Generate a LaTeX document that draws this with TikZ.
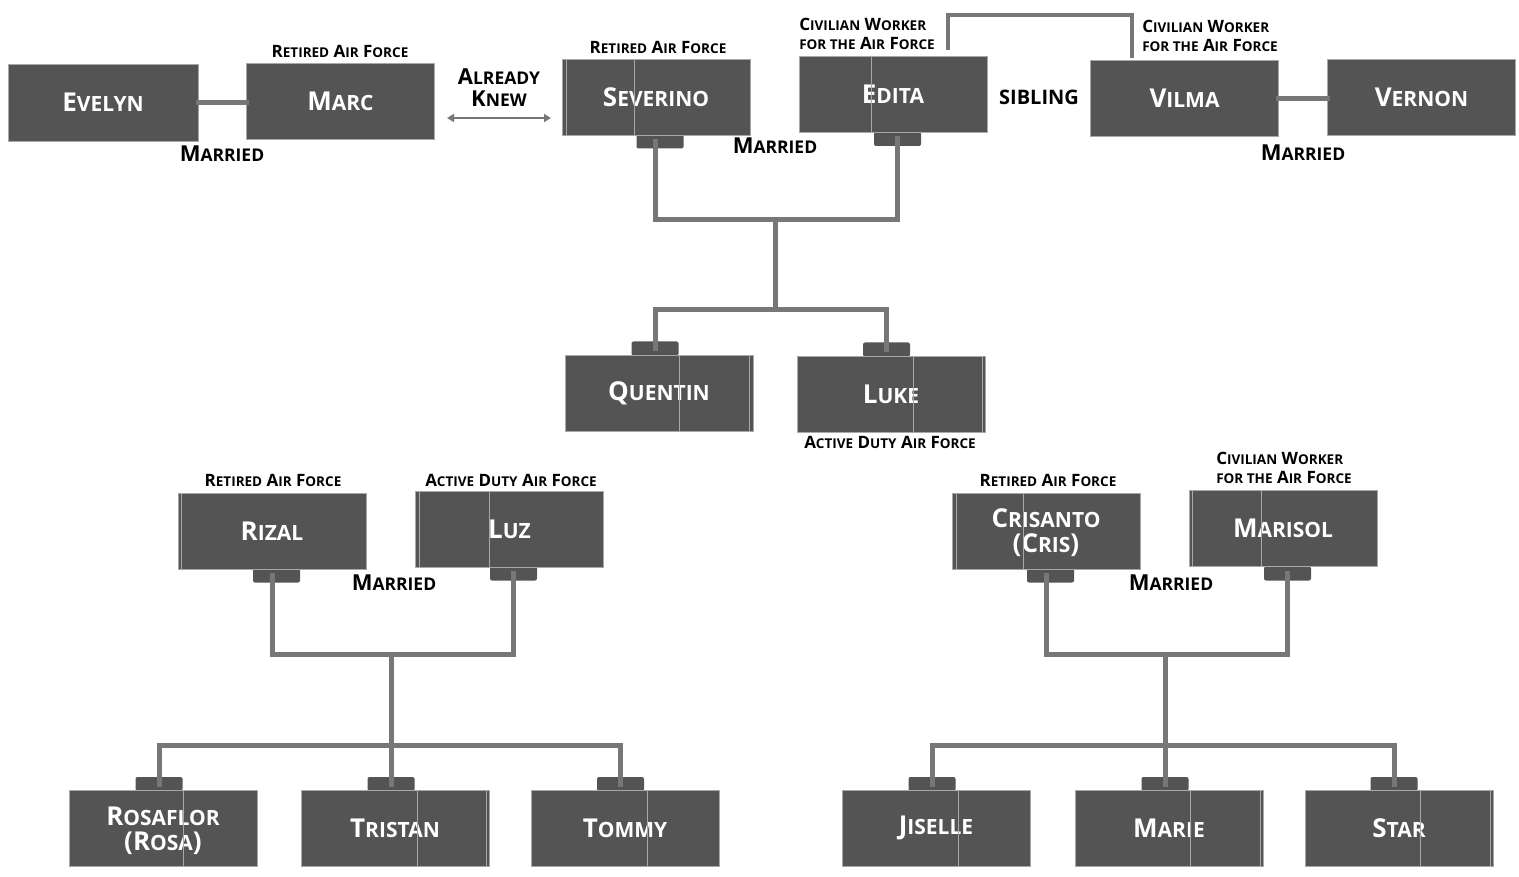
\documentclass[tikz,border=0pt]{standalone}
\usepackage{fontspec}
\setmainfont{Open Sans}
\usetikzlibrary{arrows.meta}
\definecolor{boxc}{HTML}{545454}
\definecolor{linec}{HTML}{777777}
\definecolor{edgec}{HTML}{A8A8A8}
\newcommand\NM[2]{#1{\fontsize{21}{25}\selectfont #2}}
\newcommand\LB[2]{#1{\fontsize{13.5}{19}\selectfont #2}}
\newcommand\MR[2]{#1{\fontsize{17.5}{22}\selectfont #2}}
\newcommand\RAF{\LB{R}{ETIRED} \LB{A}{IR} \LB{F}{ORCE}}
\newcommand\ADAF{\LB{A}{CTIVE} \LB{D}{UTY} \LB{A}{IR} \LB{F}{ORCE}}
\newcommand\CWAF{\LB{C}{IVILIAN} \LB{W}{ORKER}\\\LB{}{FOR THE} \LB{A}{IR} \LB{F}{ORCE}}
\newcommand\MAR{\MR{M}{ARRIED}}
\tikzset{
 person/.style={draw=edgec, line width=0.8pt, fill=boxc, minimum width=188pt, minimum height=76pt, inner sep=0pt, text=white, align=center, font=\fontsize{26}{25}\selectfont\bfseries},
 tabbox/.style={fill=boxc, rounded corners=2pt, minimum width=47pt, minimum height=14pt, inner sep=0pt},
 link/.style={draw=linec, line width=5pt, line cap=rect},
 lab/.style={inner sep=0pt, align=left, font=\fontsize{17}{19}\selectfont\bfseries},
 married/.style={inner sep=0pt, align=center, font=\fontsize{22}{22}\selectfont\bfseries},
 seam/.style={draw=edgec, line width=0.7pt},
}
\begin{document}
\begin{tikzpicture}[x=1pt,y=-1pt]
\useasboundingbox[fill=white] (0,0) rectangle (1519,877);
% tabs
\node[tabbox] (sevt) at (660,141.5) {};
\node[tabbox] (edt) at (897.5,139) {};
\node[tabbox] (qt) at (655,348.5) {};
\node[tabbox] (lt) at (886.5,349.5) {};
\node[tabbox] (rizt) at (276.5,575.5) {};
\node[tabbox] (luzt) at (513.5,573.5) {};
\node[tabbox] (crit) at (1050.5,575.5) {};
\node[tabbox] (mart) at (1287.5,573.5) {};
\node[tabbox] (rost) at (159,784) {};
\node[tabbox] (trit) at (391,784) {};
\node[tabbox] (tomt) at (620.5,784) {};
\node[tabbox] (jist) at (932,784) {};
\node[tabbox] (mart2) at (1165,784) {};
\node[tabbox] (start) at (1394,784) {};
% people
\node[person, minimum width=190pt, minimum height=77pt] (evelyn) at (103,102.5) {\NM{E}{VELYN}};
\node[person] (marc) at (340.5,101.5) {\NM{M}{ARC}};
\node[person] (sev) at (656,97) {\NM{S}{EVERINO}};
\node[person] (edita) at (893,94) {\NM{E}{DITA}};
\node[person] (vilma) at (1184.5,98.5) {\NM{V}{ILMA}};
\node[person] (vernon) at (1421.5,97.5) {\NM{V}{ERNON}};
\node[person] (quentin) at (659,393.5) {\NM{Q}{UENTIN}};
\node[person] (luke) at (891,394) {\NM{L}{UKE}};
\node[person] (rizal) at (272,531) {\NM{R}{IZAL}};
\node[person] (luz) at (509.5,529) {\NM{L}{UZ}};
\node[person, text depth=0pt] (cris) at (1046,531) {\NM{C}{RISANTO}\\(\NM{C}{RIS})};
\node[person] (marisol) at (1283,528.5) {\NM{M}{ARISOL}};
\node[person, text depth=0pt] (rosa) at (163,828.5) {\NM{R}{OSAFLOR}\\(\NM{R}{OSA})};
\node[person] (tristan) at (395,828.5) {\NM{T}{RISTAN}};
\node[person] (tommy) at (625,828.5) {\NM{T}{OMMY}};
\node[person] (jiselle) at (936,828) {\NM{J}{ISELLE}};
\node[person] (marie) at (1169,828.5) {\NM{M}{ARIE}};
\node[person] (star) at (1399,828) {\NM{S}{TAR}};
% seams
\draw[seam] (634,59) -- (634,135);
\draw[seam] (566,59) -- (566,135);
\draw[seam] (871,56) -- (871,132);
\draw[seam] (679,355) -- (679,432);
\draw[seam] (749,355) -- (749,432);
\draw[seam] (913,356) -- (913,432);
\draw[seam] (982,356) -- (982,432);
\draw[seam] (181,493) -- (181,569);
\draw[seam] (419,491) -- (419,567);
\draw[seam] (489,491) -- (489,567);
\draw[seam] (956,493) -- (956,569);
\draw[seam] (1023,493) -- (1023,569);
\draw[seam] (1192,490) -- (1192,567);
\draw[seam] (1261,490) -- (1261,567);
\draw[seam] (183,791) -- (183,866);
\draw[seam] (417,791) -- (417,866);
\draw[seam] (486,791) -- (486,866);
\draw[seam] (647,791) -- (647,866);
\draw[seam] (958,790) -- (958,866);
\draw[seam] (1190,791) -- (1190,866);
\draw[seam] (1260,791) -- (1260,866);
\draw[seam] (1420,790) -- (1420,866);
\draw[seam] (1490,790) -- (1490,866);
% junctions
\coordinate (j1) at (775,220);
\coordinate (j2) at (775,310);
\coordinate (j3) at (391,654);
\coordinate (j4) at (391,745);
\coordinate (j5) at (1165,654);
\coordinate (j6) at (1165,745);
\coordinate (sibtop) at (1040,15);
\coordinate (akl) at (447,118);
\coordinate (akr) at (551,118);
% connectors
\draw[link] (evelyn.east) -- (evelyn.east -| marc.west);
\draw[link] (vilma.east) -- (vilma.east -| vernon.west);
\draw[link, line width=4pt, line cap=butt] ([xshift=55pt,yshift=6pt]edita.north) |- (sibtop) -| ([xshift=-52.5pt,yshift=2pt]vilma.north);
\draw[draw=linec, line width=1.8pt, {Triangle[width=8pt,length=7pt]}-{Triangle[width=8pt,length=7pt]}] (akl) -- (akr);
\draw[link] ([xshift=-5pt]sevt.center) |- (j1) -| (edt.center);
\draw[link] (j1) -- (j2);
\draw[link] (qt.center) |- (j2) -| (lt.center);
\draw[link] ([xshift=-4.5pt]rizt.center) |- (j3) -| (luzt.center);
\draw[link] (j3) -- (j4);
\draw[link] (rost.center) |- (j4) -| (tomt.center);
\draw[link] (j4) -- (trit.center);
\draw[link] ([xshift=-4.5pt]crit.center) |- (j5) -| (mart.center);
\draw[link] (j5) -- (j6);
\draw[link] (jist.center) |- (j6) -| (start.center);
\draw[link] (j6) -- (mart2.center);
% labels
\node[lab] (marcl) at (340,51) {\RAF};
\node[lab] (sevl) at (658,47) {\RAF};
\node[lab] (editl) at (867,34) {\CWAF};
\node[lab] (vilml) at (1210,36) {\CWAF};
\node[lab] (lukel) at (890,442) {\ADAF};
\node[lab] (rizl) at (273,480) {\RAF};
\node[lab] (luzl) at (511,480) {\ADAF};
\node[lab] (cril) at (1048,480) {\RAF};
\node[lab] (maril) at (1284,468) {\CWAF};
\node[married] (m1) at (222,154) {\MAR};
\node[married] (m2) at (775,146) {\MAR};
\node[married] (m3) at (1303,153) {\MAR};
\node[married] (m4) at (394,583) {\MAR};
\node[married] (m5) at (1171,583) {\MAR};
\node[married] (ak) at (499,88) {\MR{A}{LREADY}\\\MR{K}{NEW}};
\node[married, font=\fontsize{20}{22}\selectfont\bfseries] (sib) at (1039,97) {SIBLING};
\end{tikzpicture}
\end{document}
